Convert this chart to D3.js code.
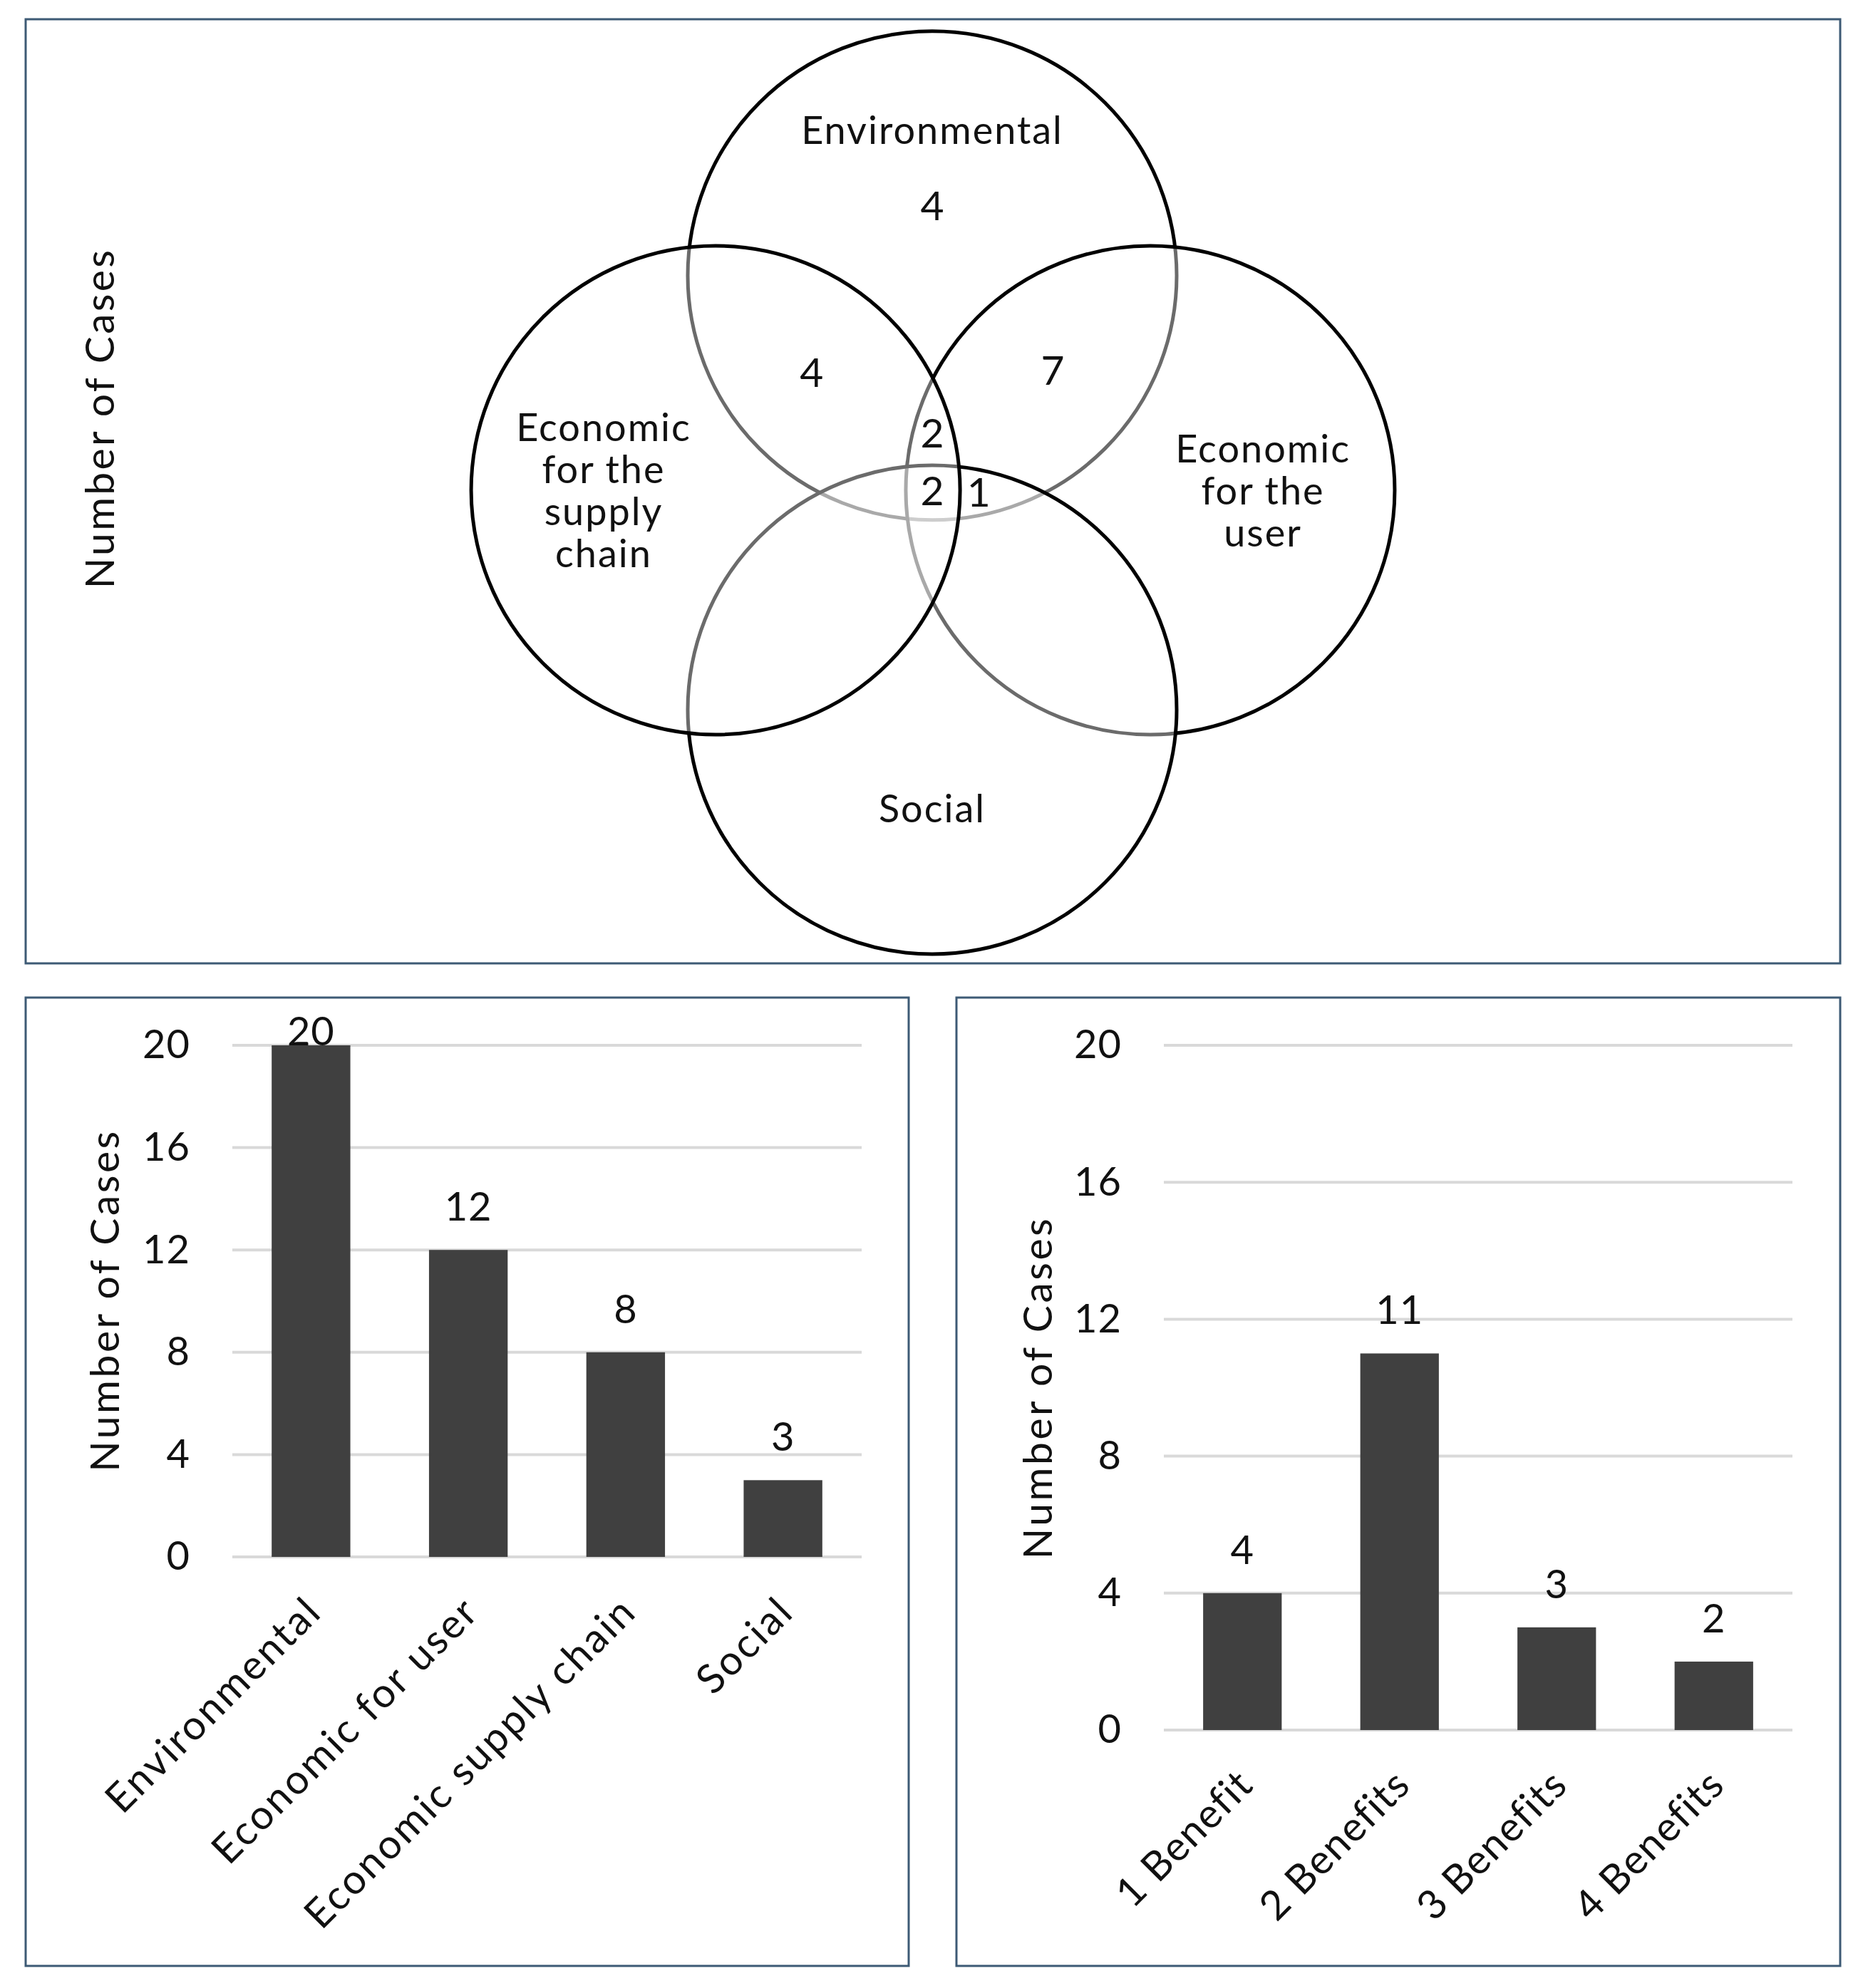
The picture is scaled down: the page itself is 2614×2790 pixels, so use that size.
<!DOCTYPE html>
<html><head><meta charset="utf-8">
<script src="https://cdn.jsdelivr.net/npm/d3@7"></script>
<style>
body{margin:0;background:#fff;}
svg{display:block;}
text{font-family:Lato,"Open Sans",sans-serif;fill:#111;}
</style>
</head><body>
<svg id="c" width="2614" height="2790"></svg>
<script>
// ---------------- DATA ----------------
const vennSets = ["Environmental", "Economic for the user", "Social", "Economic for the supply chain"];
const vennSetLabelLines = [["Environmental"], ["Economic", "for the", "user"], ["Social"], ["Economic", "for the", "supply", "chain"]];
const vennRegions = ["Env only", "Env + Eco supply", "Env + Eco user", "Env + Eco supply + Eco user", "All four", "Env + Eco user + Social"];
const vennCounts = [4, 4, 7, 2, 2, 1];

const benefitTypes = ["Environmental", "Economic for user", "Economic supply chain", "Social"];
const benefitTypeCases = [20, 12, 8, 3];

const benefitCounts = ["1 Benefit", "2 Benefits", "3 Benefits", "4 Benefits"];
const benefitCountCases = [4, 11, 3, 2];

const yTicks = [0, 4, 8, 12, 16, 20];
const yTitle = "Number of Cases";

// ---------------- LAYOUT ----------------
const svg = d3.select("#c");
const borderColor = "#3d5a75";
const panels = [
  {x0: 36, y0: 27, x1: 2582, y1: 1352},
  {x0: 36, y0: 1400, x1: 1275, y1: 2759},
  {x0: 1342, y0: 1400, x1: 2582, y1: 2759}
];
svg.selectAll("rect.panel").data(panels).join("rect")
  .attr("class", "panel")
  .attr("x", d => d.x0).attr("y", d => d.y0)
  .attr("width", d => d.x1 - d.x0).attr("height", d => d.y1 - d.y0)
  .attr("fill", "none").attr("stroke", borderColor).attr("stroke-width", 3);

// ---------------- VENN ----------------
// unit coordinates: 1 unit = circle radius
const R = 343;
const vx = d3.scaleLinear().domain([-1, 1]).range([1308 - R, 1308 + R]);
const vy = d3.scaleLinear().domain([-1, 1]).range([688 - R, 688 + R]);
const vennCircleLayout = [ // order = drawing order, matches vennSets
  {cx: 0, cy: -0.878},
  {cx: 0.892, cy: 0},
  {cx: 0, cy: 0.898},
  {cx: -0.886, cy: 0}
];
const vennSetLabelLayout = [
  {x: 0, y: -1.472},
  {x: 1.353, y: -0.169},
  {x: 0, y: 1.303},
  {x: -1.344, y: -0.257}
];
const vennRegionLayout = [
  {x: 0, y: -1.163},
  {x: -0.493, y: -0.481},
  {x: 0.493, y: -0.490},
  {x: 0, y: -0.233},
  {x: 0, y: 0.003},
  {x: 0.19, y: 0.01}
];
const gV = svg.append("g");
gV.selectAll("circle").data(vennSets).join("circle")
  .attr("cx", (d, i) => vx(vennCircleLayout[i].cx))
  .attr("cy", (d, i) => vy(vennCircleLayout[i].cy))
  .attr("r", vx(1) - vx(0))
  .attr("fill", "rgba(255,255,255,0.42)")
  .attr("stroke", "#000").attr("stroke-width", 5);

const vennFont = 54, lineH = 59;
vennSetLabelLines.forEach((lines, i) => {
  const L = vennSetLabelLayout[i];
  const t = gV.append("text")
    .attr("text-anchor", "middle")
    .attr("font-size", vennFont)
    .attr("letter-spacing", 2)
    .attr("x", vx(L.x)).attr("y", vy(L.y));
  lines.forEach((ln, j) => {
    t.append("tspan").attr("x", vx(L.x)).attr("dy", j === 0 ? "0.35em" : lineH).text(ln);
  });
});
gV.selectAll("text.region").data(vennCounts).join("text")
  .attr("class", "region")
  .attr("text-anchor", "middle")
  .attr("font-size", 57)
  .attr("x", (d, i) => vx(vennRegionLayout[i].x))
  .attr("y", (d, i) => vy(vennRegionLayout[i].y))
  .attr("dy", "0.35em")
  .text(d => d);

svg.append("text")
  .attr("transform", "translate(160,587) rotate(-90)")
  .attr("text-anchor", "middle")
  .attr("font-size", 57)
  .attr("letter-spacing", 3.3)
  .text(yTitle);

// ---------------- BAR CHARTS ----------------
function barChart(cfg) {
  const g = svg.append("g");
  const x = d3.scaleBand().domain(cfg.cats).range([cfg.xl, cfg.xr]).paddingInner(0.5).paddingOuter(0.25);
  const y = d3.scaleLinear().domain([0, 20]).range([cfg.yb, cfg.yt]);
  // gridlines
  g.selectAll("line.grid").data(yTicks).join("line")
    .attr("x1", cfg.xl).attr("x2", cfg.xr)
    .attr("y1", d => y(d)).attr("y2", d => y(d))
    .attr("stroke", "#d9d9d9").attr("stroke-width", 4);
  // y axis tick labels
  const ya = d3.axisLeft(y).tickValues(yTicks).tickSize(0).tickPadding(cfg.xl - cfg.tickRight);
  const ag = g.append("g").attr("transform", `translate(${cfg.xl},0)`).call(ya);
  ag.select(".domain").remove();
  ag.selectAll("text").attr("font-size", 56).attr("font-family", "Lato, 'Open Sans', sans-serif").attr("fill", "#111").attr("letter-spacing", 1);
  // bars
  g.selectAll("rect.bar").data(cfg.vals).join("rect")
    .attr("x", (d, i) => x(cfg.cats[i]))
    .attr("width", x.bandwidth())
    .attr("y", d => y(d))
    .attr("height", d => y(0) - y(d))
    .attr("fill", "#404040");
  // value labels
  g.selectAll("text.val").data(cfg.vals).join("text")
    .attr("class", "val")
    .attr("text-anchor", "middle")
    .attr("font-size", 56)
    .attr("letter-spacing", 1)
    .attr("x", (d, i) => x(cfg.cats[i]) + x.bandwidth() / 2)
    .attr("y", d => Math.max(y(d) - 41, y(20)))
    .text(d => d);
  // x labels
  g.selectAll("text.xl").data(cfg.cats).join("text")
    .attr("class", "xl")
    .attr("text-anchor", "end")
    .attr("font-size", 57)
    .attr("letter-spacing", cfg.xLabelSpacing)
    .attr("transform", d => `translate(${x(d) + x.bandwidth() / 2 + 18},${y(0) + 80}) rotate(-45)`)
    .text(d => d);
  // y title
  g.append("text")
    .attr("transform", `translate(${cfg.titleX},${(y(0) + y(20)) / 2 + cfg.titleDy}) rotate(-90)`)
    .attr("text-anchor", "middle")
    .attr("font-size", 57)
    .attr("letter-spacing", 3.5)
    .text(yTitle);
}
barChart({cats: benefitTypes, vals: benefitTypeCases, xl: 326, xr: 1209, yt: 1467, yb: 2185, tickRight: 267, titleX: 167, titleDy: -1, xLabelSpacing: 3});
barChart({cats: benefitCounts, vals: benefitCountCases, xl: 1633, xr: 2515, yt: 1467, yb: 2428, tickRight: 1574, titleX: 1476, titleDy: 0, xLabelSpacing: 1.5});
</script>
</body></html>
